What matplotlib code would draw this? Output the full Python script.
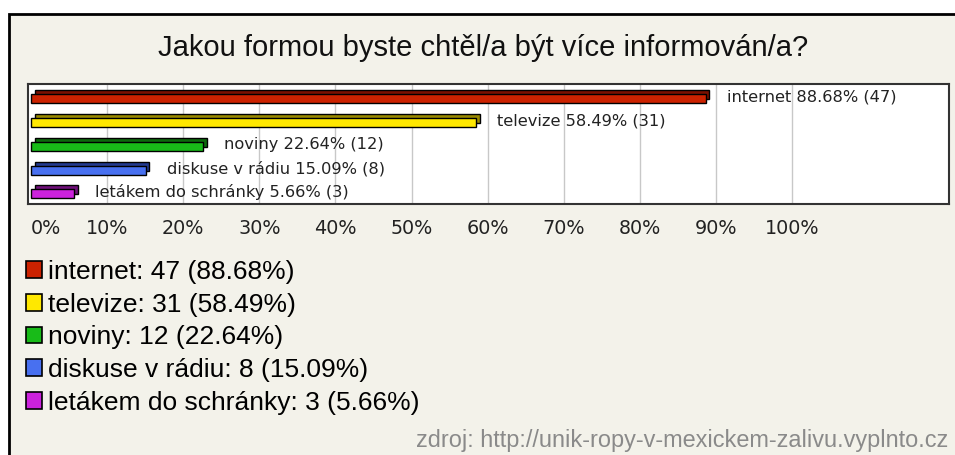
import matplotlib
matplotlib.use('Agg')
import matplotlib.pyplot as plt
from matplotlib.patches import Rectangle, Patch

# data
categories = ['internet', 'televize', 'noviny', 'diskuse v rádiu', 'letákem do schránky']
counts = [47, 31, 12, 8, 3]
percents = [88.68, 58.49, 22.64, 15.09, 5.66]
front_colors = ['#cc2200', '#ffe800', '#18bb18', '#4870f0', '#cc22dd']
top_colors = ['#7a1000', '#9a8a00', '#0c6a0c', '#223a90', '#70107a']
tick_values = [0, 10, 20, 30, 40, 50, 60, 70, 80, 90, 100]
tick_labels = ['%d%%' % t for t in tick_values]
title = 'Jakou formou byste chtěl/a být více informován/a?'
source = 'zdroj: http://unik-ropy-v-mexickem-zalivu.vyplnto.cz'

W, H = 955, 455
fig = plt.figure(figsize=(W / 100, H / 100), dpi=100, facecolor='white')

# panel background with black frame (cut off at right/bottom like the original)
fig.patches.append(Rectangle((9 / W, -0.1), 1.2, 1.1 - 14 / H, transform=fig.transFigure,
                             facecolor='#f3f2ea', edgecolor='black', linewidth=2, zorder=-5))

fig.text(483 / W, 1 - 48 / H, title, ha='center', va='center', fontsize=21,
         family='Liberation Sans', color='#111111')

ax = fig.add_axes([28 / W, 1 - 204 / H, (949 - 28) / W, 120 / H])
ax.set_facecolor('white')
px = 7.61  # pixels per percent
ax.set_xlim(-3 / px, 100 + (949 - 792) / px)
ypos = list(range(len(categories)))
ax.set_ylim(4 + 12 / 23.75, -13 / 23.75)

for g in tick_values[1:]:
    ax.axvline(g, color='#c8c8c8', linewidth=1, zorder=1)

bar_h = 9 / 23.75
dx = 3.5 / px
dy = 4 / 23.75
# back face (gives the 3D top/side)
ax.barh([y - dy + 0.08 for y in ypos], percents, left=dx, height=bar_h, color=top_colors,
        edgecolor='black', linewidth=1, zorder=2)
ax.barh([y + 0.08 for y in ypos], percents, height=bar_h, color=front_colors,
        edgecolor='black', linewidth=1, zorder=3)

for y, cat, p, c in zip(ypos, categories, percents, counts):
    ax.text(p + 21 / px, y, '%s %.2f%% (%d)' % (cat, p, c), va='center', ha='left',
            fontsize=11.7, color='#222222', zorder=4)

ax.set_yticks([])
ax.set_xticks(tick_values)
ax.set_xticklabels(tick_labels, fontsize=13.8, color='#222222')
ax.get_xticklabels()[0].set_horizontalalignment('left')
ax.tick_params(axis='x', length=0, pad=11)
for s in ax.spines.values():
    s.set_color('#333333')
    s.set_linewidth(1.5)

handles = [Patch(facecolor=fc, edgecolor='black', linewidth=1.2) for fc in front_colors]
labels = ['%s: %d (%.2f%%)' % (cat, c, p) for cat, c, p in zip(categories, counts, percents)]
fig.legend(handles, labels, loc='upper left', bbox_to_anchor=(26 / W, 1 - 260 / H),
           frameon=False, prop={'family': 'Liberation Sans', 'size': 19},
           handlelength=0.6, handleheight=0.6, handletextpad=0.25, labelspacing=0.33,
           borderaxespad=0, borderpad=0)

fig.text(948 / W, 1 - 440 / H, source, ha='right', va='center', fontsize=16.9,
         family='Liberation Sans', color='#8a8a8a')

fig.savefig('out.png', dpi=100, facecolor='white')
